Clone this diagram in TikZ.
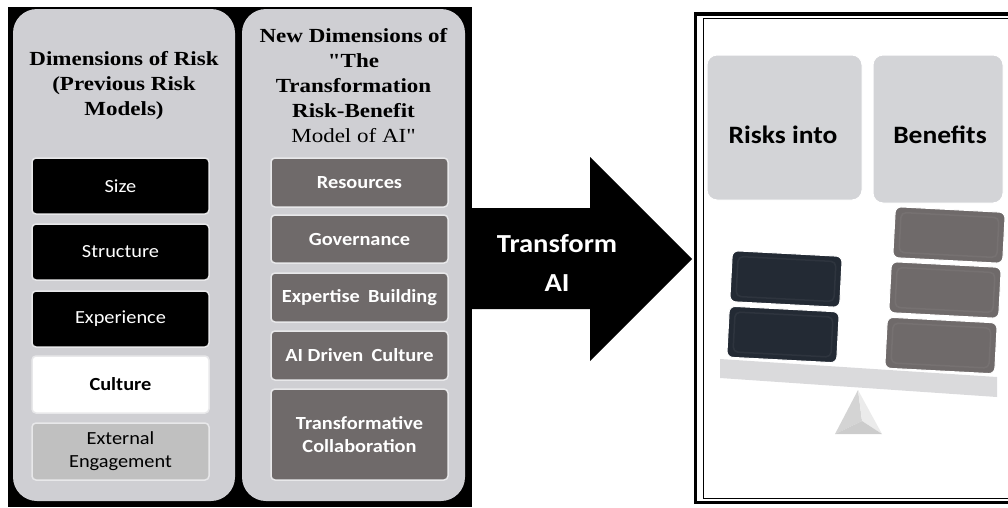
\documentclass[tikz,border=0pt]{standalone}
\usepackage{fontspec}
\setmainfont{Liberation Serif}
\newfontfamily\ttlfont[FakeStretch=1.15]{Liberation Serif}
\newfontfamily\calfont[FakeStretch=1.1]{Carlito}
\definecolor{panelgrey}{RGB}{207,207,211}
\definecolor{boxedge}{RGB}{232,232,234}
\definecolor{brownish}{RGB}{111,106,106}
\definecolor{extgrey}{RGB}{192,192,192}
\definecolor{navy}{RGB}{35,42,52}
\definecolor{softgrey}{RGB}{211,212,215}
\definecolor{beamgrey}{RGB}{218,218,220}
\tikzset{
  panel/.style={fill=panelgrey, rounded corners=24pt},
  lbox/.style={draw=boxedge, line width=1.5pt, rounded corners=4pt, minimum width=177pt, inner sep=0pt,
    font=\calfont\fontsize{18.5}{21}\selectfont, align=center},
  darkbox/.style={lbox, fill=black, text=white, minimum height=56pt},
  rbox/.style={lbox, fill=brownish, text=white, font=\calfont\bfseries\fontsize{18.5}{23}\selectfont},
  ttl/.style={align=center, font=\ttlfont\bfseries\fontsize{20}{25}\selectfont, inner sep=0pt},
  bigbox/.style={fill=softgrey, draw=white, line width=1pt, rounded corners=10pt, inner sep=0pt},
  bigtext/.style={inner sep=0pt, font=\calfont\bfseries\fontsize{25}{28}\selectfont},
  blk/.style={rounded corners=6pt, minimum width=110pt, minimum height=51pt, rotate=-3,
    draw=white, line width=1pt, inner sep=0pt},
  bevel/.style={rounded corners=5pt, minimum width=98pt, minimum height=40pt, rotate=-3,
    draw=white, draw opacity=0.05, line width=1.5pt, inner sep=0pt},
}
\begin{document}
\begin{tikzpicture}[x=1pt,y=-1pt]
\useasboundingbox (0,0) rectangle (1008,507);
\clip (0,0) rectangle (1008,507);
% left black background and panels
\fill[black] (8,7) rectangle (472,507);
\fill[panel] (13,9) rectangle (235,501);
\fill[panel] (242,9) rectangle (465,501);
% titles
\node[ttl] (t1) at (124,86) {Dimensions of Risk\\(Previous Risk\\Models)};
\node[ttl] (t2) at (353.5,86) {New Dimensions of\\"The\\Transformation\\Risk-Benefit\\{\mdseries Model of AI"}};
% left boxes
\node[darkbox] (size) at (120.5,186) {Size};
\node[darkbox] (structure) at (120.5,252) {Structure};
\node[darkbox] (experience) at (120.5,319) {Experience};
\node[lbox, fill=white, text=black, minimum height=57pt, font=\calfont\bfseries\fontsize{18.5}{21}\selectfont] (culture) at (120.5,384.5) {Culture};
\node[lbox, fill=extgrey, text=black, minimum height=57pt, font=\calfont\fontsize{18.5}{23}\selectfont] (external) at (120.5,451.5) {External\\Engagement};
% right boxes of panel 2
\node[rbox, minimum height=49pt] (resources) at (359.5,182.5) {Resources};
\node[rbox, minimum height=48pt] (governance) at (359.5,239) {Governance};
\node[rbox, minimum height=49pt] (expertise) at (359.5,297.5) {Expertise\hspace{0.45em}Building};
\node[rbox, minimum height=49pt] (aidriven) at (359.5,355.5) {AI Driven\hspace{0.45em}Culture};
\node[rbox, minimum height=91pt] (collab) at (359.5,434.5) {Transformative\\Collaboration};
% big arrow
\fill[black] (472,208) -- (590,208) -- (590,157) -- (692,259) -- (590,361) -- (590,309) -- (472,309) -- cycle;
\node[text=white, align=center, font=\calfont\bfseries\fontsize{26}{39}\selectfont] (transform) at (557,263) {Transform\\AI};
% right frame (double line)
\draw[line width=3.5pt] (695.5,14) rectangle (1030,502.5);
\draw[line width=1pt] (703.5,18) rectangle (1030,498.5);
% top boxes
\node[bigbox, minimum width=155pt, minimum height=145pt] (risks) at (784.5,127.5) {};
\node[bigtext] (riskst) at (783,135) {Risks into};
\node[bigbox, minimum width=130pt, minimum height=148pt] (benefits) at (938,129) {};
\node[bigtext] (benefitst) at (940,135) {Benefits};
% balance
\fill[beamgrey] (720,359) -- (997,377) -- (997,397) -- (720,378) -- cycle;
\coordinate (apex) at (858,390);
\coordinate (bl) at (835,434);
\coordinate (br) at (882,434);
\coordinate (inner) at (862,421);
\fill[black!17] (apex) -- (bl) -- (inner) -- cycle;
\fill[black!8] (apex) -- (inner) -- (br) -- cycle;
\fill[black!20] (bl) -- (inner) -- (br) -- cycle;
% blocks
\node[blk, fill=navy] (d1) at (786,279) {};
\node[blk, fill=navy] (d2) at (783,334.5) {};
\node[blk, fill=brownish] (g1) at (949,235) {};
\node[blk, fill=brownish] (g2) at (945,290) {};
\node[blk, fill=brownish] (g3) at (941,345.5) {};
\foreach \n in {d1,d2,g1,g2,g3}{\node[bevel] at (\n.center) {};}
\end{tikzpicture}
\end{document}
